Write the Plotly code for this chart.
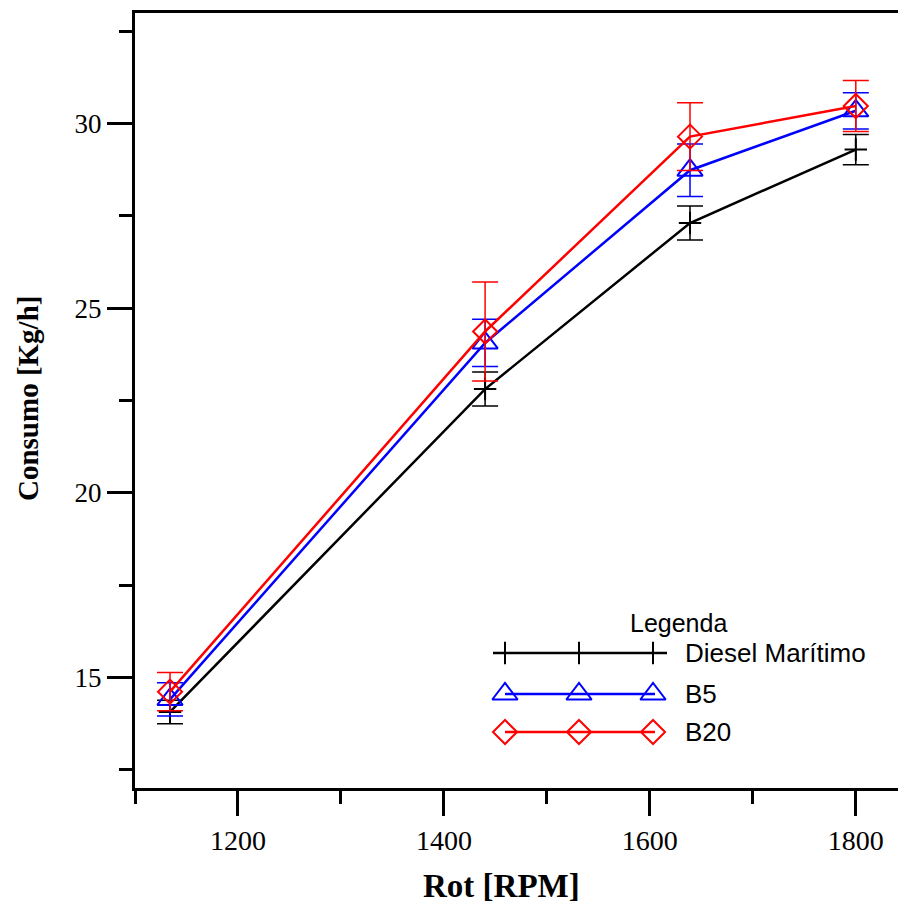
import plotly.graph_objects as go

# ---- data ----
rpm = [1134, 1440, 1639, 1800]
diesel = [14.06, 22.81, 27.31, 29.30]
diesel_err = [0.32, 0.46, 0.46, 0.41]
b5 = [14.40, 24.06, 28.74, 30.35]
b5_err = [0.45, 0.64, 0.71, 0.49]
b20 = [14.61, 24.37, 29.65, 30.48]
b20_err = [0.52, 1.34, 0.92, 0.69]

series_names = ["Diesel Marítimo", "B5", "B20"]
legend_title = "Legenda"
x_title = "Rot [RPM]"
y_title = "Consumo [Kg/h]"

W, H = 898, 906
OFF = 0  # body margin removed via post_script
L, R, T, B = 135, 0, 13, 118
PW, PH = W - L - R, H - T - B

colors = ["black", "#0000ff", "#ff0000"]
symbols = ["cross-thin-open", "triangle-up-open", "diamond-open"]
msizes = [16, 22, 18.5]

fig = go.Figure()
for name, ys, err, c, s, ms in zip(series_names, [diesel, b5, b20],
                                   [diesel_err, b5_err, b20_err],
                                   colors, symbols, msizes):
    fig.add_trace(go.Scatter(
        x=rpm, y=ys, name=name, mode="lines+markers",
        line=dict(color=c, width=2.5),
        marker=dict(symbol=s, size=ms, color=c, line=dict(color=c, width=2)),
        error_y=dict(type="data", array=err, visible=True, color=c,
                     thickness=1.5, width=13),
        showlegend=False, cliponaxis=False,
    ))


def px(x):
    return (x - OFF - L) / PW


def py(y):
    return (H - B - (y - OFF)) / PH


# ---- custom legend drawn on an overlay axis in page pixel units ----
leg_rows = [653, 694, 732]
leg_marker_x = [505, 579, 653]
leg_line_x = [[493, 667], [505, 655], [505, 655]]
for i, (name, c, s, ms) in enumerate(zip(series_names, colors, symbols, msizes)):
    fig.add_trace(go.Scatter(
        x=leg_line_x[i], y=[leg_rows[i]] * 2, mode="lines",
        line=dict(color=c, width=2.5), xaxis="x2", yaxis="y2",
        showlegend=False, hoverinfo="skip"))
    fig.add_trace(go.Scatter(
        x=leg_marker_x, y=[leg_rows[i]] * 3, mode="markers",
        marker=dict(symbol=s, size=ms, color=c, line=dict(color=c, width=2)),
        xaxis="x2", yaxis="y2", showlegend=False, hoverinfo="skip"))
    fig.add_annotation(x=px(683), y=py(leg_rows[i]), xref="paper", yref="paper",
                       text=name, showarrow=False, xanchor="left",
                       yanchor="middle",
                       font=dict(family="Liberation Sans, Arial", size=26,
                                 color="black"))
fig.add_annotation(x=px(678), y=py(623), xref="paper", yref="paper",
                   text=legend_title,
                   showarrow=False, xanchor="center", yanchor="middle",
                   font=dict(family="Liberation Sans, Arial", size=25,
                             color="black"))

# axis titles
fig.add_annotation(x=px(501), y=py(886), xref="paper", yref="paper",
                   text=f"<b>{x_title}</b>",
                   showarrow=False, xanchor="center", yanchor="middle",
                   font=dict(family="Liberation Serif, Times New Roman",
                             size=33, color="black"))
fig.add_annotation(x=px(28), y=py(399), xref="paper", yref="paper",
                   text=f"<b>{y_title}</b>",
                   showarrow=False, textangle=-90, xanchor="center",
                   yanchor="middle",
                   font=dict(family="Liberation Serif, Times New Roman",
                             size=29, color="black"))

axis_common = dict(showgrid=False, zeroline=False, showline=True,
                   linecolor="black", linewidth=3, ticks="outside",
                   ticklen=25, tickwidth=3, tickcolor="black")

fig.update_layout(
    width=W, height=H,
    margin=dict(l=L, r=R, t=T, b=B),
    plot_bgcolor="white", paper_bgcolor="white",
    showlegend=False,
    xaxis=dict(range=[1100, 1100 + PW / 1.0297], dtick=200, tick0=1200,
               mirror=True,
               tickfont=dict(family="Liberation Serif, Times New Roman",
                             size=28, color="black"),
               minor=dict(dtick=100, ticks="outside", ticklen=13,
                          tickwidth=3, tickcolor="black"),
               **axis_common),
    yaxis=dict(range=[12.0, 33.0], dtick=5, tick0=0,
               tickfont=dict(family="Liberation Serif, Times New Roman",
                             size=27, color="black"),
               minor=dict(dtick=2.5, ticks="outside", ticklen=13,
                          tickwidth=3, tickcolor="black"),
               **axis_common),
    xaxis2=dict(overlaying="x", range=[L + OFF, W - R + OFF], visible=False,
                fixedrange=True, anchor="y2"),
    yaxis2=dict(overlaying="y", range=[H - B + OFF, T + OFF], visible=False,
                fixedrange=True, anchor="x2"),
)

fig.write_html(
    "out.html",
    config={"displayModeBar": False},
    post_script="document.body.style.margin='0';"
                "document.body.style.overflow='hidden';",
)
